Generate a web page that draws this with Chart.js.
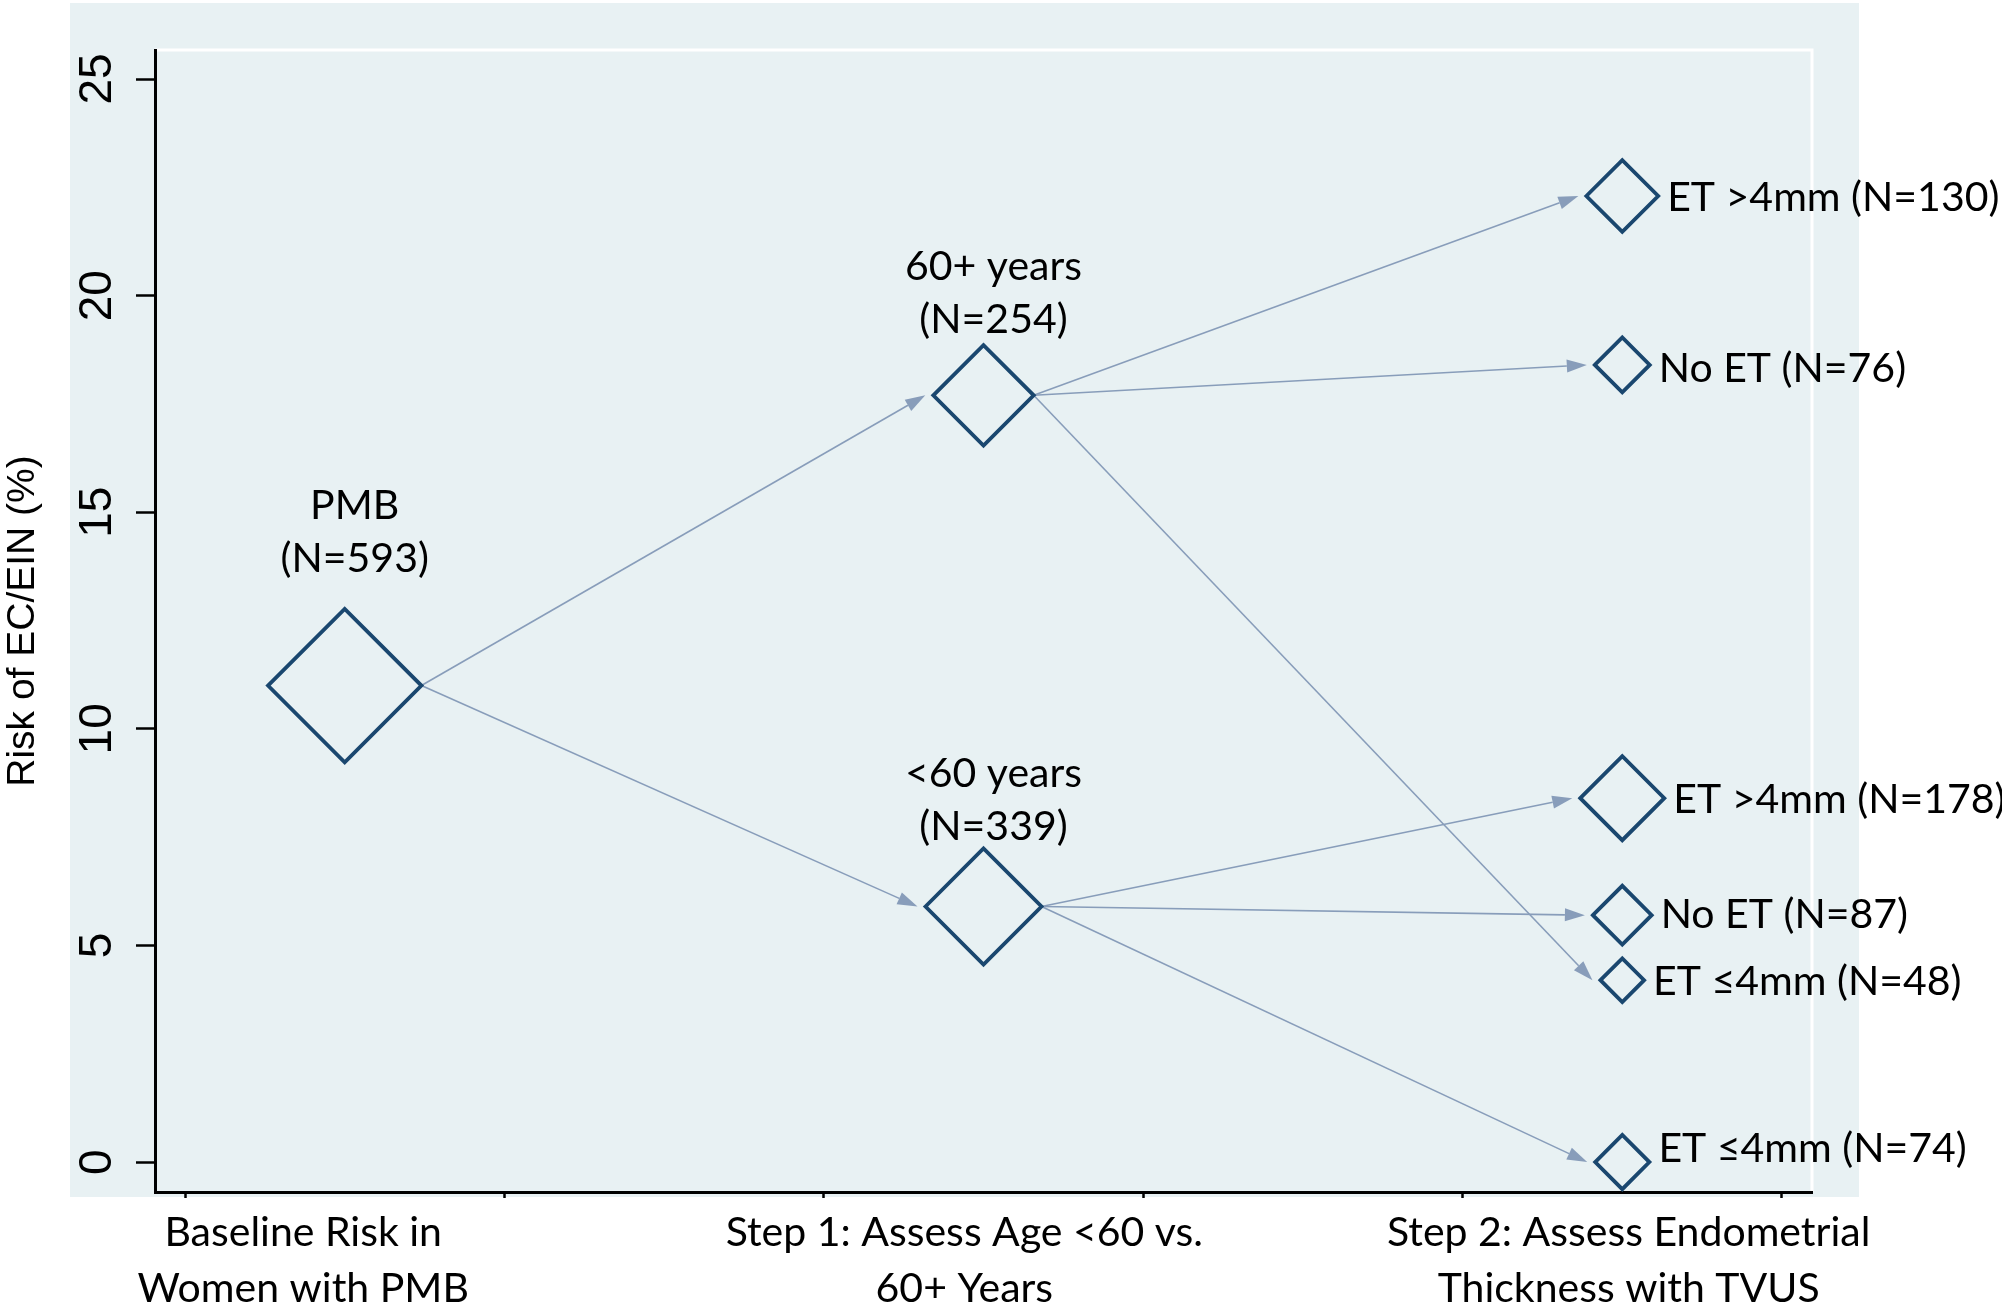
<!DOCTYPE html>
<html lang="en">
<head>
<meta charset="UTF-8">
<title>Risk of EC/EIN by triage step</title>
<script src="https://cdn.jsdelivr.net/npm/chart.js@4"></script>
<style>
  html, body { margin: 0; padding: 0; background: #fff; }
  #wrap { width: 2002px; height: 1304px; }
</style>
</head>
<body>
<div id="wrap"><canvas id="myChart"></canvas></div>
<script>
// x axis steps (label centres sit a little off the node columns, as in the original)
const stepPos = [0.87, 2.94, 5.02];
const stepLabels = [
  ['Baseline Risk in', 'Women with PMB'],
  ['Step 1: Assess Age <60 vs.', '60+ Years'],
  ['Step 2: Assess Endometrial', 'Thickness with TVUS']
];
const xTickMarks = [0.5, 1.5, 2.5, 3.5, 4.5, 5.5];
const yTicks = [0, 5, 10, 15, 20, 25];

// tree nodes (risk in %)
const nodeNames = ['PMB', '60+ years', '<60 years', 'ET >4mm', 'No ET', 'ET \u22644mm', 'ET >4mm', 'No ET', 'ET \u22644mm'];
const nodeN = [593, 254, 339, 130, 76, 48, 178, 87, 74];
const nodeStep = [1, 3, 3, 5, 5, 5, 5, 5, 5];
const nodeRisk = [11.0, 17.7, 5.9, 22.3, 18.4, 4.2, 8.4, 5.7, 0.0];
const nodeParent = [-1, 0, 0, 1, 1, 1, 2, 2, 2];

const navy = '#1a476f';
const arrowCol = 'rgb(136,157,186)';
const panelCol = '#e8f1f3';
const labelFont = '41px Lato, "Open Sans", sans-serif';

// marker size grows with the group size
function markerRadius(n) {
    return 3.15 * Math.sqrt(n);
}

const backdrop = {
    id: 'backdrop',
    beforeDraw(chart) {
        const {ctx, chartArea: a} = chart;
        ctx.save();
        ctx.fillStyle = '#fff';
        ctx.fillRect(0, 0, chart.width, chart.height);
        ctx.fillStyle = panelCol;
        ctx.fillRect(a.left - 85, a.top - 47, a.right - a.left + 132, a.bottom - a.top + 52);
        // white frame on top and right of the plot region
        ctx.strokeStyle = '#fff';
        ctx.lineWidth = 3;
        ctx.beginPath();
        ctx.moveTo(a.left, a.top);
        ctx.lineTo(a.right, a.top);
        ctx.lineTo(a.right, a.bottom);
        ctx.stroke();
        ctx.restore();
    }
};

const arrows = {
    id: 'arrows',
    beforeDatasetsDraw(chart) {
        const {ctx, scales: {x, y}} = chart;
        ctx.save();
        ctx.strokeStyle = arrowCol;
        ctx.fillStyle = arrowCol;
        ctx.lineWidth = 1.6;
        nodeParent.forEach((p, i) => {
            if (p < 0) return;
            const x0 = x.getPixelForValue(nodeStep[p]) + markerRadius(nodeN[p]);
            const y0 = y.getPixelForValue(nodeRisk[p]);
            const x1 = x.getPixelForValue(nodeStep[i]) - markerRadius(nodeN[i]) - 8;
            const y1 = y.getPixelForValue(nodeRisk[i]);
            const ang = Math.atan2(y1 - y0, x1 - x0);
            const len = 20, hw = 6.5;
            const bx = x1 - len * Math.cos(ang);
            const by = y1 - len * Math.sin(ang);
            ctx.beginPath();
            ctx.moveTo(x0, y0);
            ctx.lineTo(bx, by);
            ctx.stroke();
            ctx.beginPath();
            ctx.moveTo(x1, y1);
            ctx.lineTo(bx + hw * Math.sin(ang), by - hw * Math.cos(ang));
            ctx.lineTo(bx - hw * Math.sin(ang), by + hw * Math.cos(ang));
            ctx.closePath();
            ctx.fill();
        });
        ctx.restore();
    }
};

const nodeText = {
    id: 'nodeText',
    afterDatasetsDraw(chart, args, opts) {
        const {ctx, scales: {x, y}} = chart;
        ctx.save();
        ctx.font = labelFont;
        ctx.fillStyle = '#000';
        ctx.textBaseline = 'alphabetic';
        nodeNames.forEach((name, i) => {
            const px = x.getPixelForValue(nodeStep[i]);
            const py = y.getPixelForValue(nodeRisk[i]);
            const r = markerRadius(nodeN[i]);
            const nTxt = '(N=' + nodeN[i] + ')';
            if (nodeStep[i] < 5) {
                ctx.textAlign = 'center';
                const mid2 = py - r - opts.topGap[i];
                ctx.fillText(name, px + 10, mid2 - 53 + 15);
                ctx.fillText(nTxt, px + 10, mid2 + 15);
            } else {
                ctx.textAlign = 'left';
                ctx.fillText(name + ' ' + nTxt, px + r + 9, py + 15 + (opts.sideShift[i] || 0));
            }
        });
        ctx.restore();
    }
};

const ctx = document.getElementById('myChart').getContext('2d');
const chart = new Chart(ctx, {
    type: 'scatter',
    data: {
        datasets: [{
            data: nodeStep.map((s, i) => ({x: s, y: nodeRisk[i]})),
            pointStyle: 'rectRot',
            pointRadius: nodeN.map(markerRadius),
            pointHoverRadius: nodeN.map(markerRadius),
            borderColor: navy,
            backgroundColor: 'rgba(0,0,0,0)',
            borderWidth: 3.8,
            showLine: false,
            clip: false
        }]
    },
    options: {
        responsive: true,
        maintainAspectRatio: false,
        devicePixelRatio: 1,
        animation: false,
        events: [],
        layout: {
            autoPadding: false,   // big markers would otherwise push the plot down
            padding: {top: 50, right: 190, bottom: 0, left: 0}
        },
        plugins: {
            legend: {display: false},
            tooltip: {enabled: false},
            nodeText: {
                topGap: [52, 27, 24],
                sideShift: {4: 2, 7: -2, 8: -15}
            }
        },
        scales: {
            x: {
                type: 'linear',
                min: 0.406,
                max: 5.594,
                afterBuildTicks: (s) => {
                    s.ticks = xTickMarks.concat(stepPos).sort((a, b) => a - b).map(v => ({value: v}));
                },
                afterFit: (s) => {
                    s.height = 112;
                    s.paddingLeft = 0;
                    s.paddingRight = 0;
                },
                ticks: {
                    autoSkip: false,
                    maxRotation: 0,
                    minRotation: 0,
                    padding: 7,
                    color: '#000',
                    font: {family: 'Lato, "Open Sans", sans-serif', size: 41, lineHeight: 1.37},
                    callback: (v) => {
                        const k = stepPos.indexOf(v);
                        return k < 0 ? '' : stepLabels[k];
                    }
                },
                grid: {
                    drawOnChartArea: false,
                    tickLength: 6,
                    tickWidth: 2.5,
                    tickColor: (c) => (c.tick && stepPos.includes(c.tick.value)) ? 'rgba(0,0,0,0)' : '#000'
                },
                border: {color: '#000', width: 3}
            },
            y: {
                type: 'linear',
                min: -0.69,
                max: 25.67,
                afterBuildTicks: (s) => {
                    s.ticks = yTicks.map(v => ({value: v}));
                },
                afterFit: (s) => {
                    s.width = 155;
                    s.paddingTop = 0;
                    s.paddingBottom = 0;
                },
                ticks: {
                    minRotation: 90,
                    maxRotation: 90,
                    crossAlign: 'center',
                    padding: 12,
                    color: '#000',
                    font: {family: '"Liberation Sans", Arial, sans-serif', size: 46}
                },
                grid: {
                    drawOnChartArea: false,
                    tickLength: 19,
                    tickWidth: 2.5,
                    tickColor: '#000'
                },
                border: {color: '#000', width: 3},
                title: {
                    display: true,
                    text: 'Risk of EC/EIN (%)',
                    color: '#000',
                    padding: 0,
                    font: {family: '"Liberation Sans", Arial, sans-serif', size: 39}
                }
            }
        }
    },
    plugins: [backdrop, arrows, nodeText]
});
</script>
</body>
</html>
